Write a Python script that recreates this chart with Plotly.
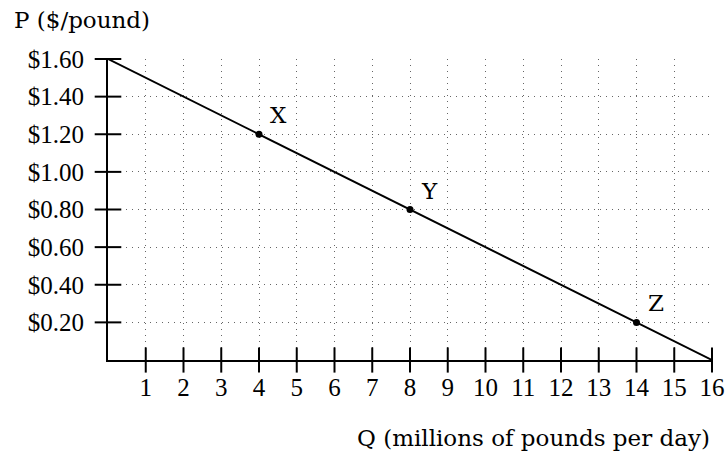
import plotly.graph_objects as go

# Data
line_q = [0, 16]
line_p = [1.60, 0.0]
point_names = ["X", "Y", "Z"]
point_q = [4, 8, 14]
point_p = [1.20, 0.80, 0.20]
x_ticks = list(range(1, 17))
y_ticks = [0.2, 0.4, 0.6, 0.8, 1.0, 1.2, 1.4, 1.6]
y_tick_labels = ["$0.20", "$0.40", "$0.60", "$0.80", "$1.00", "$1.20", "$1.40", "$1.60"]

NUMFONT = "Liberation Serif"
TXTFONT = "DejaVu Serif"
NFS = 25
TFS = 23

fig = go.Figure()

# demand line
fig.add_trace(go.Scatter(x=line_q, y=line_p, mode="lines",
                         line=dict(color="black", width=2), cliponaxis=False,
                         hoverinfo="skip", showlegend=False))
# crossing tick marks
fig.add_trace(go.Scatter(x=x_ticks, y=[0] * len(x_ticks), mode="markers",
                         marker=dict(symbol="line-ns-open", size=18, color="black",
                                     line=dict(color="black", width=2)),
                         cliponaxis=False, hoverinfo="skip", showlegend=False))
fig.add_trace(go.Scatter(x=[0] * len(y_ticks), y=y_ticks, mode="markers",
                         marker=dict(symbol="line-ew-open", size=19, color="black",
                                     line=dict(color="black", width=2)),
                         cliponaxis=False, hoverinfo="skip", showlegend=False))
# points
fig.add_trace(go.Scatter(x=point_q, y=point_p, mode="markers",
                         marker=dict(color="black", size=7),
                         cliponaxis=False, showlegend=False))

for n, q, p in zip(point_names, point_q, point_p):
    fig.add_annotation(x=q, y=p, text=n, showarrow=False, xshift=19, yshift=19,
                       font=dict(family=TXTFONT, size=TFS, color="black"))

fig.add_annotation(xref="paper", yref="paper", x=(12 - 108) / 604, y=(360 - 20) / 301,
                   xanchor="left", yanchor="middle", text="P ($/pound)", showarrow=False,
                   font=dict(family=TXTFONT, size=TFS, color="black"))
fig.add_annotation(xref="paper", yref="paper", x=1.0, y=(360 - 438) / 301,
                   xanchor="right", yanchor="middle", text="Q (millions of pounds per day)",
                   showarrow=False, font=dict(family=TXTFONT, size=TFS, color="black"))

grid = dict(showgrid=True, gridcolor="#666666", gridwidth=1, griddash="1px,5px")

fig.update_xaxes(range=[0, 16], tickmode="array", tickvals=x_ticks,
                 ticktext=[str(v) for v in x_ticks], ticks="", ticklabelstandoff=4,
                 showline=True, linecolor="black", linewidth=2, zeroline=False,
                 automargin=False, fixedrange=True,
                 tickfont=dict(family=NUMFONT, size=NFS, color="black"), **grid)
fig.update_yaxes(range=[0, 1.6], tickmode="array", tickvals=y_ticks,
                 ticktext=y_tick_labels, ticks="", ticklabelstandoff=17,
                 showline=True, linecolor="black", linewidth=2, zeroline=False,
                 automargin=False, fixedrange=True,
                 tickfont=dict(family=NUMFONT, size=NFS, color="black"), **grid)

fig.update_layout(width=728, height=453, margin=dict(l=108, r=16, t=59, b=93, autoexpand=False),
                  plot_bgcolor="white", paper_bgcolor="white",
                  font=dict(family=NUMFONT, size=NFS, color="black"))

fig.write_html("out.html", config={"displayModeBar": False},
               post_script="document.body.style.margin='0';")
